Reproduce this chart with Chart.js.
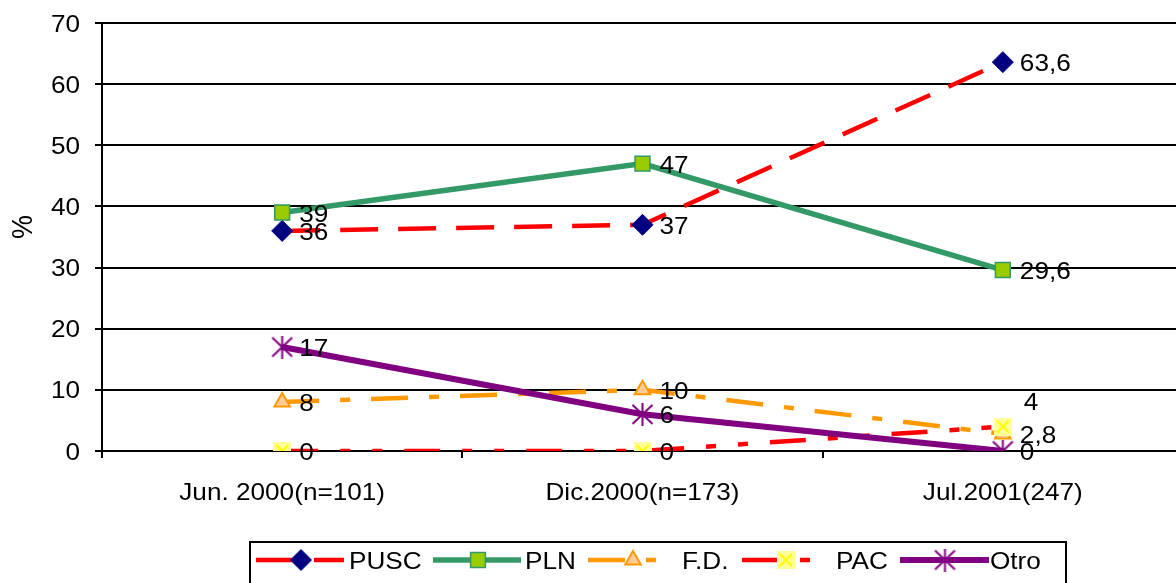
<!DOCTYPE html>
<html><head><meta charset="utf-8">
<script src="https://cdn.jsdelivr.net/npm/chart.js@4"></script>
<style>
html,body{margin:0;padding:0;background:#fff;overflow:hidden;width:1176px;height:583px}
#wrap{position:absolute;left:0;top:0;width:1200px;height:583px}
</style>
</head><body><div id="wrap"><canvas id="c"></canvas></div>
<script>
// ---- data ----
const categories = ['Jun. 2000(n=101)', 'Dic.2000(n=173)', 'Jul.2001(247)'];
const seriesNames = ['PUSC', 'PLN', 'F.D.', 'PAC', 'Otro'];
const puscValues = [36, 37, 63.6];
const plnValues = [39, 47, 29.6];
const fdValues = [8, 10, 2.8];
const pacValues = [0, 0, 4];
const otroValues = [17, 6, 0];
const yTickValues = [0, 10, 20, 30, 40, 50, 60, 70];
const yAxisTitle = '%';

// ---- styles ----
const FONT = '24px "Liberation Sans", Arial, sans-serif';
const TITLE_FONT = '27px "Liberation Sans", Arial, sans-serif';
const SX = 1.09;

function mk(w, h, draw) { const c = document.createElement('canvas'); c.width = w; c.height = h; draw(c.getContext('2d')); return c; }
const pacMarker = mk(18, 18, g => {
  g.fillStyle = '#FFFF99'; g.fillRect(0, 0, 18, 18);
  g.strokeStyle = '#FFFF00'; g.lineWidth = 2.2;
  g.beginPath(); g.moveTo(3, 3); g.lineTo(15, 15); g.moveTo(15, 3); g.lineTo(3, 15); g.stroke();
});
const starMarker = mk(23, 23, g => {
  g.strokeStyle = '#800080'; g.lineWidth = 2;
  g.beginPath(); g.moveTo(11.5, 0); g.lineTo(11.5, 23);
  g.moveTo(1.5, 2); g.lineTo(21.5, 21); g.moveTo(21.5, 2); g.lineTo(1.5, 21); g.stroke();
});

const datasets = [
  { label: seriesNames[0], data: puscValues, borderColor: '#FF0000', borderWidth: 4.5, borderDash: [38, 20],
    pointStyle: 'rectRot', pointRadius: 10.5, pointBackgroundColor: '#000080', pointBorderColor: '#000080', pointBorderWidth: 1, order: 5 },
  { label: seriesNames[1], data: plnValues, borderColor: '#339966', borderWidth: 5.5,
    pointStyle: 'rect', pointRadius: 10.5, pointBackgroundColor: '#99CC00', pointBorderColor: '#339966', pointBorderWidth: 1.5, order: 4 },
  { label: seriesNames[2], data: fdValues, borderColor: '#FF9900', borderWidth: 4.5, borderDash: [37, 21, 10, 21],
    pointStyle: 'triangle', pointRadius: 9, pointBackgroundColor: '#FFCC99', pointBorderColor: '#FF9900', pointBorderWidth: 2, order: 3 },
  { label: seriesNames[3], data: pacValues, borderColor: '#FF0000', borderWidth: 4.5, borderDash: [36, 22, 10, 22, 10, 22],
    pointStyle: pacMarker, pointRadius: 9, order: 2 },
  { label: seriesNames[4], data: otroValues, borderColor: '#800080', borderWidth: 6,
    pointStyle: starMarker, pointRadius: 11, order: 1 }
];

function fmt(v) { return String(v).replace('.', ','); }
function txt(ctx, t, x, y, align) {
  ctx.save(); ctx.translate(x, y); ctx.scale(SX, 1);
  ctx.textAlign = align; ctx.textBaseline = 'alphabetic'; ctx.fillText(t, 0, 0); ctx.restore();
}

// legend layout: [lineStart, lineEnd, markerX, textX]
const legendLayout = [[256, 344, 301, 349], [433, 521, 478, 525], [588, 677, 633, 682], [742, 830, 786, 836], [900, 989, 945, 990]];

const textPlugin = {
  id: 'stretchText',
  afterDraw(chart) {
    const ctx = chart.ctx, xs = chart.scales.x, ys = chart.scales.y;
    ctx.save();
    ctx.fillStyle = '#000'; ctx.font = FONT;
    yTickValues.forEach(v => txt(ctx, String(v), 80, ys.getPixelForValue(v) + 8.5, 'right'));
    categories.forEach((c, i) => txt(ctx, c, xs.getPixelForValue(i), 500, 'center'));
    // axis title
    ctx.save(); ctx.font = TITLE_FONT; ctx.translate(32, 227); ctx.scale(SX, 1); ctx.rotate(-Math.PI / 2);
    ctx.textAlign = 'center'; ctx.textBaseline = 'alphabetic'; ctx.fillText(yAxisTitle, 0, 0); ctx.restore();
    // data labels
    chart.data.datasets.forEach((ds, di) => {
      const meta = chart.getDatasetMeta(di);
      meta.data.forEach((pt, i) => {
        let dx = 17, dy = 9;
        if (di === 3 && i === 2) { dx = 21; dy = -16.5; }
        txt(ctx, fmt(ds.data[i]), pt.x + dx, pt.y + dy, 'left');
      });
    });
    // legend
    ctx.lineWidth = 2; ctx.strokeStyle = '#000';
    ctx.strokeRect(250, 542, 816, 80);
    chart.data.datasets.forEach((ds, di) => {
      const [x0, x1, mx, tx] = legendLayout[di];
      const ly = 560;
      ctx.save();
      ctx.strokeStyle = ds.borderColor; ctx.lineWidth = ds.borderWidth;
      ctx.setLineDash(ds.borderDash || []); ctx.lineCap = 'butt';
      ctx.beginPath(); ctx.moveTo(x0, ly); ctx.lineTo(x1, ly); ctx.stroke();
      ctx.restore();
      ctx.save();
      ctx.fillStyle = ds.pointBackgroundColor || '#000';
      ctx.strokeStyle = ds.pointBorderColor || '#000';
      ctx.lineWidth = ds.pointBorderWidth || 0;
      Chart.helpers.drawPoint(ctx, { pointStyle: ds.pointStyle, radius: ds.pointRadius, rotation: 0, borderWidth: ds.pointBorderWidth || 0 }, mx, ly);
      ctx.restore();
      ctx.fillStyle = '#000'; ctx.font = FONT;
      txt(ctx, ds.label, tx, 569, 'left');
    });
    ctx.restore();
  }
};

new Chart(document.getElementById('c'), {
  type: 'line',
  data: { labels: categories, datasets: datasets },
  options: {
    responsive: true, maintainAspectRatio: false, animation: false, events: [],
    layout: { padding: { top: 23, right: 14, left: 0, bottom: 0 } },
    plugins: { legend: { display: false }, tooltip: { enabled: false } },
    elements: { line: { tension: 0, fill: false, borderCapStyle: 'butt' } },
    scales: {
      x: {
        type: 'category', offset: true,
        grid: { offset: true, drawOnChartArea: false, drawTicks: true, tickLength: 7, color: '#000', lineWidth: 2 },
        border: { display: true, color: '#000', width: 2 },
        ticks: { display: false },
        afterFit(s) { s.height = 132; }
      },
      y: {
        min: 0, max: 70,
        ticks: { display: false, stepSize: 10 },
        grid: { color: '#000', lineWidth: 2, drawTicks: true, tickLength: 7 },
        border: { display: true, color: '#000', width: 2 },
        afterFit(s) { s.width = 102; }
      }
    }
  },
  plugins: [textPlugin]
});
</script>
</body></html>
